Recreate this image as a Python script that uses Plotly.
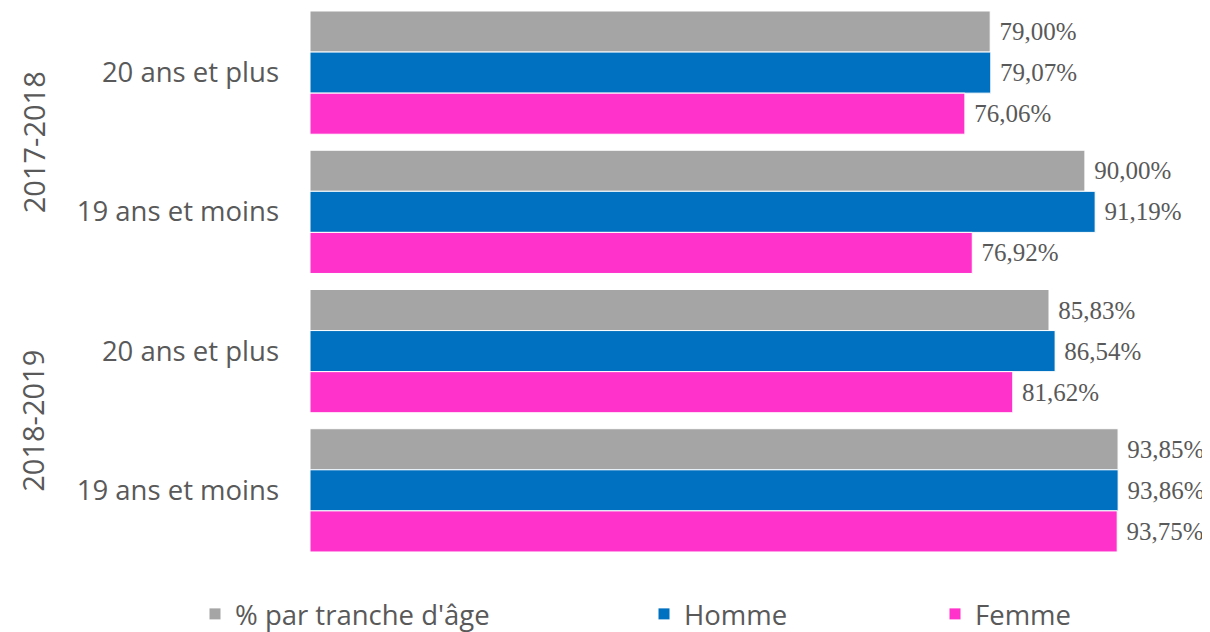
import plotly.graph_objects as go

years = ["2017-2018", "2017-2018", "2018-2019", "2018-2019"]
ages = ["20 ans et plus", "19 ans et moins", "20 ans et plus", "19 ans et moins"]
series_names = ["% par tranche d'âge", "Homme", "Femme"]
tranche = [79.00, 90.00, 85.83, 93.85]
homme = [79.07, 91.19, 86.54, 93.86]
femme = [76.06, 76.92, 81.62, 93.75]
colors = ["#A5A5A5", "#0070C0", "#FF33CC"]

cat_keys = [f"{y}|{a}" for y, a in zip(years, ages)]

# page has an 8px body margin; figure fills the rest of the window
OFF = 8
W, H = 1210 - OFF, 632 - OFF
# plot area in page pixels: x 310..1171, y 8..559
ML = 310 - OFF
MR = 1210 - 1171
MT = 0
MB = H - (559 - OFF)
pw = W - ML - MR
ph = H - MT - MB

def px2paper_x(px):
    return (px - OFF - ML) / pw

def px2paper_y(py):
    return (H - MB - (py - OFF)) / ph

fig = go.Figure()
legends = ["legend", "legend2", "legend3"]
for name, vals, col, lg in zip(series_names, [tranche, homme, femme], colors, legends):
    fig.add_trace(go.Bar(
        y=cat_keys, x=vals, orientation="h", name=name,
        marker=dict(color=col, line=dict(color="white", width=1)),
        text=[" " + f"{v:.2f}%".replace(".", ",") for v in vals],
        textposition="outside", cliponaxis=False,
        textfont=dict(family="Liberation Serif", size=25, color="#595959"),
        legend=lg,
    ))

fig.update_layout(
    width=W, height=H,
    margin=dict(l=ML, r=MR, t=MT, b=MB, autoexpand=False),
    plot_bgcolor="white", paper_bgcolor="white",
    barmode="group", bargap=0.115, bargroupgap=0,
    font=dict(family="Open Sans", color="#595959"),
    xaxis=dict(range=[0, 100], visible=False),
    yaxis=dict(range=[3.493, -0.464], tickvals=cat_keys, ticktext=ages,
               tickfont=dict(family="Open Sans", size=27.5, color="#595959"),
               ticklabelstandoff=30, showline=False, showgrid=False, automargin=False),
    showlegend=True,
)

leg_common = dict(orientation="h", yanchor="middle", y=px2paper_y(614), xanchor="left",
                  font=dict(family="Open Sans", size=27.5, color="#595959"),
                  bgcolor="rgba(0,0,0,0)")
fig.update_layout(
    legend=dict(x=px2paper_x(195), **leg_common),
    legend2=dict(x=px2paper_x(644), **leg_common),
    legend3=dict(x=px2paper_x(935), **leg_common),
)

year_labels = ["2017-2018", "2018-2019"]
for i, yl in enumerate(year_labels):
    fig.add_annotation(
        x=px2paper_x(33), xref="paper", y=2 * i + 0.5, yref="y",
        text=yl, textangle=-90, showarrow=False,
        font=dict(family="Open Sans", size=29, color="#595959"),
        xanchor="center", yanchor="middle",
    )

fig.write_html("out.html")
